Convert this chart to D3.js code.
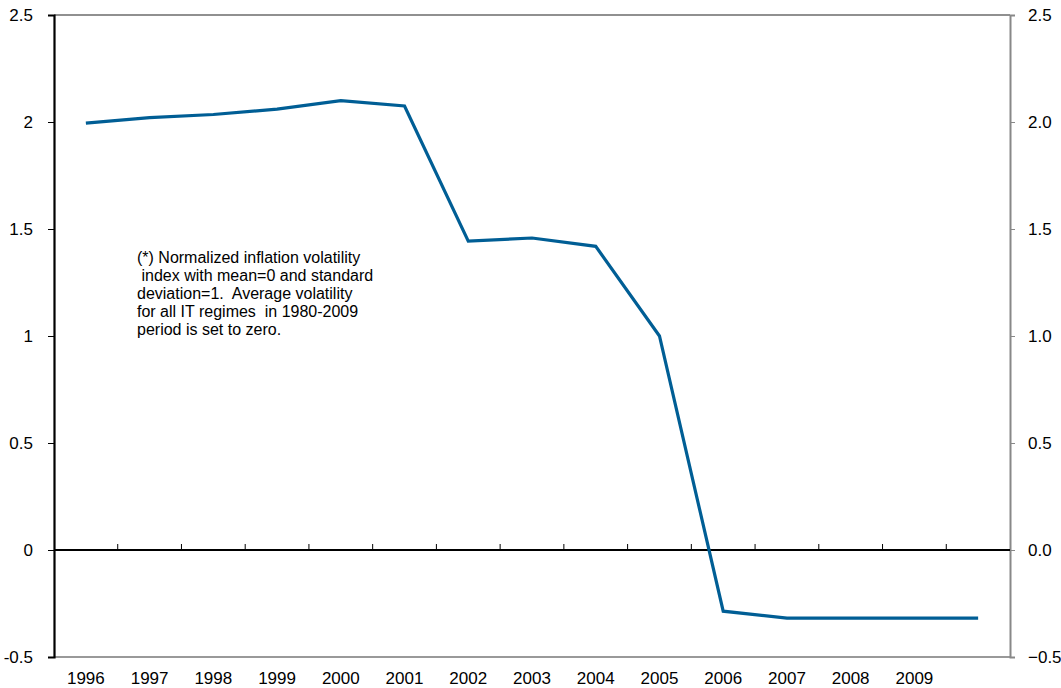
<!DOCTYPE html>
<html><head><meta charset="utf-8">
<script src="https://cdn.jsdelivr.net/npm/d3@7"></script>
<style>body{margin:0;background:#fff}svg{display:block}text{font-family:"Liberation Sans",Arial,sans-serif}</style>
</head><body>
<svg id="c" width="1061" height="688"></svg>
<script>
const years = ["1996","1997","1998","1999","2000","2001","2002","2003","2004","2005","2006","2007","2008","2009","2010"];
const xTickLabels = ["1996","1997","1998","1999","2000","2001","2002","2003","2004","2005","2006","2007","2008","2009",""];
const volatility = [1.995, 2.02, 2.035, 2.06, 2.10, 2.075, 1.443, 1.458, 1.419, 1.0, -0.286, -0.318, -0.318, -0.318, -0.318];
const leftTicks = [-0.5, 0, 0.5, 1, 1.5, 2, 2.5];
const noteLines = ["(*) Normalized inflation volatility", " index with mean=0 and standard", "deviation=1.  Average volatility", "for all IT regimes  in 1980-2009", "period is set to zero."];

const svg = d3.select("#c");
const L = 54, R = 1010, T = 15, B = 657;
const x = d3.scaleBand().domain(years).range([L, R]).padding(0);
const y = d3.scaleLinear().domain([-0.5, 2.5]).range([B, T]);

// frame
svg.append("line").attr("x1", L).attr("x2", R).attr("y1", T).attr("y2", T).attr("stroke", "#222").attr("stroke-width", 1.2);
svg.append("line").attr("x1", L).attr("x2", R).attr("y1", B).attr("y2", B).attr("stroke", "#777").attr("stroke-width", 1.5);

// right axis
const ra = svg.append("g").attr("transform", `translate(${R},0)`)
  .call(d3.axisRight(y).tickValues(leftTicks).tickFormat(d3.format(".1f")).tickSize(5).tickPadding(13));
ra.select(".domain").attr("stroke", "#888").attr("stroke-width", 2);
ra.selectAll(".tick line").attr("stroke", "#888");
ra.selectAll("text").attr("font-size", 17).attr("fill", "#000").attr("font-family", "Liberation Sans, Arial, sans-serif");

// left axis
const la = svg.append("g").attr("transform", `translate(${L},0)`)
  .call(d3.axisLeft(y).tickValues(leftTicks).tickFormat(d => String(d)).tickSize(6).tickPadding(15));
la.select(".domain").attr("stroke", "#000").attr("stroke-width", 2.2);
la.selectAll(".tick line").attr("stroke", "#000");
la.selectAll("text").attr("font-size", 17).attr("fill", "#000").attr("font-family", "Liberation Sans, Arial, sans-serif");

// zero line with category boundary ticks
const y0 = y(0);
svg.append("line").attr("x1", L).attr("x2", R).attr("y1", y0).attr("y2", y0).attr("stroke", "#000").attr("stroke-width", 2);
svg.append("g").selectAll("line").data(years.slice(1)).join("line")
  .attr("x1", d => x(d)).attr("x2", d => x(d)).attr("y1", y0).attr("y2", y0 - 6)
  .attr("stroke", "#000").attr("stroke-width", 1);

// x labels
svg.append("g").selectAll("text").data(years).join("text")
  .attr("x", d => x(d) + x.bandwidth() / 2).attr("y", 684)
  .attr("text-anchor", "middle").attr("font-size", 17).attr("fill", "#000")
  .text((d, i) => xTickLabels[i]);

// series line
const line = d3.line().x((d, i) => x(years[i]) + x.bandwidth() / 2).y(d => y(d));
svg.append("path").datum(volatility).attr("d", line).attr("fill", "none")
  .attr("stroke", "#005E95").attr("stroke-width", 3.2).attr("stroke-linejoin", "miter");

// note
svg.append("g").selectAll("text").data(noteLines).join("text")
  .attr("x", 137).attr("y", (d, i) => 263 + i * 18).attr("font-size", 16).attr("fill", "#000")
  .attr("xml:space", "preserve").style("white-space", "pre").text(d => d);
</script>
</body></html>
